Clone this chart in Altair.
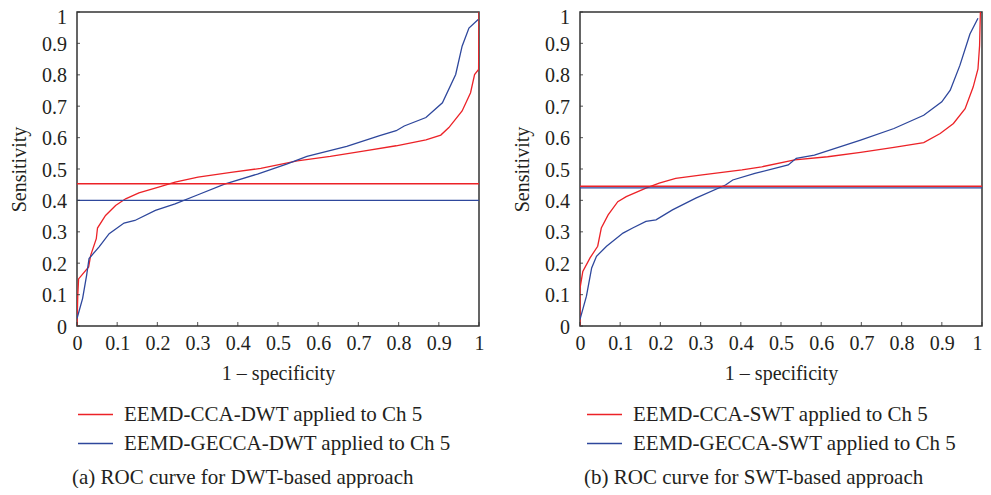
import altair as alt
import pandas as pd

# ---------------- data ----------------
ticks = [0, 0.1, 0.2, 0.3, 0.4, 0.5, 0.6, 0.7, 0.8, 0.9, 1]
tick_labels = ["0", "0.1", "0.2", "0.3", "0.4", "0.5", "0.6", "0.7", "0.8", "0.9", "1"]

# (a) DWT panel
dwt_cca_x = [0, 0.002, 0.004, 0.029, 0.034, 0.048, 0.051, 0.071, 0.096, 0.121, 0.154, 0.203,
             0.244, 0.301, 0.383, 0.457, 0.548, 0.63, 0.712, 0.794, 0.868, 0.905, 0.925,
             0.958, 0.979, 0.989, 0.999, 1.0]
dwt_cca_y = [0, 0.10, 0.15, 0.188, 0.225, 0.278, 0.312, 0.352, 0.384, 0.405, 0.424, 0.442,
             0.458, 0.474, 0.489, 0.502, 0.526, 0.540, 0.557, 0.574, 0.593, 0.608, 0.632,
             0.685, 0.743, 0.801, 0.817, 1.0]
dwt_gecca_x = [0, 0.014, 0.024, 0.030, 0.055, 0.080, 0.117, 0.144, 0.195, 0.244, 0.301, 0.367,
               0.449, 0.523, 0.572, 0.671, 0.753, 0.794, 0.814, 0.868, 0.909, 0.942, 0.958,
               0.975, 0.998]
dwt_gecca_y = [0.024, 0.088, 0.162, 0.215, 0.252, 0.294, 0.328, 0.336, 0.368, 0.389, 0.418, 0.452,
               0.484, 0.516, 0.540, 0.572, 0.606, 0.622, 0.637, 0.664, 0.711, 0.801, 0.891,
               0.949, 0.976]
dwt_thresholds = [0.453, 0.400]

# (b) SWT panel
swt_cca_x = [0, 0, 0.007, 0.025, 0.044, 0.053, 0.07, 0.094, 0.115, 0.164, 0.197, 0.238, 0.304,
             0.403, 0.452, 0.534, 0.616, 0.698, 0.781, 0.855, 0.896, 0.929, 0.958, 0.978,
             0.990, 0.994, 0.996]
swt_cca_y = [0, 0.12, 0.174, 0.217, 0.254, 0.312, 0.354, 0.396, 0.412, 0.439, 0.455, 0.470, 0.481,
             0.497, 0.507, 0.529, 0.539, 0.553, 0.569, 0.584, 0.613, 0.645, 0.692, 0.761,
             0.819, 0.893, 1.0]
swt_gecca_x = [0, 0.016, 0.029, 0.041, 0.066, 0.107, 0.131, 0.164, 0.189, 0.230, 0.288, 0.362,
               0.380, 0.435, 0.518, 0.538, 0.583, 0.698, 0.781, 0.855, 0.900, 0.921, 0.945,
               0.970, 0.990]
swt_gecca_y = [0.021, 0.095, 0.185, 0.222, 0.254, 0.296, 0.312, 0.333, 0.338, 0.370, 0.407, 0.449,
               0.465, 0.486, 0.513, 0.534, 0.544, 0.592, 0.629, 0.671, 0.714, 0.751, 0.830,
               0.930, 0.980]
swt_thresholds = [0.445, 0.440]

dwt_labels = ["EEMD-CCA-DWT applied to Ch 5", "EEMD-GECCA-DWT applied to Ch 5"]
swt_labels = ["EEMD-CCA-SWT applied to Ch 5", "EEMD-GECCA-SWT applied to Ch 5"]
captions = ["(a) ROC curve for DWT-based approach", "(b) ROC curve for SWT-based approach"]

# ---------------- style ----------------
FONT = "Liberation Serif"
TXT = "#231f20"
RED = "#ec2227"
BLUE = "#2e479c"
W, H = 402, 314


def curves_df(xs_list, ys_list, labels):
    rows = []
    for xs, ys, lab in zip(xs_list, ys_list, labels):
        for i, (x, y) in enumerate(zip(xs, ys)):
            rows.append({"x": x, "y": y, "series": lab, "i": i})
    return pd.DataFrame(rows)


def panel(cx, cy, gx, gy, thr, labels, caption, legend_x, cap_dx, last_align):
    color = alt.Color(
        "series:N",
        scale=alt.Scale(domain=labels, range=[RED, BLUE]),
        legend=alt.Legend(
            orient="none", legendX=legend_x, legendY=384, direction="vertical",
            title=None, symbolType="stroke", symbolSize=1225, symbolStrokeWidth=1.5,
            labelFont=FONT, labelFontSize=21, labelColor=TXT, labelOffset=10,
            padding=0, rowPadding=-7, labelLimit=400,
        ),
    )
    xs = alt.Scale(domain=[0, 1], nice=False)
    ys = alt.Scale(domain=[0, 1], nice=False)
    xaxis = alt.Axis(values=ticks, format="~g", title="1 – specificity", ticks=False, domain=False,
                     grid=False, labelPadding=7, titlePadding=10, labelFlush=False,
                     labelOverlap=False,
                     labelAlign={"condition": {"test": "datum.value == 1", "value": last_align},
                                 "value": "center"})
    yaxis = alt.Axis(values=ticks, title="Sensitivity", ticks=False, domain=False,
                     grid=False, labels=False, titlePadding=48)

    df = curves_df([cx, gx], [cy, gy], labels)
    lines = alt.Chart(df).mark_line(strokeWidth=1.3, clip=True).encode(
        x=alt.X("x:Q", scale=xs, axis=xaxis),
        y=alt.Y("y:Q", scale=ys, axis=yaxis),
        color=color,
        order=alt.Order("i:Q"),
    )
    thr_df = pd.DataFrame({"series": labels, "v": thr})
    rules = alt.Chart(thr_df).mark_rule(strokeWidth=1.4).encode(
        y=alt.Y("v:Q", scale=ys, axis=yaxis), color=color
    )
    tick_df = pd.DataFrame({"t": ticks, "lab": tick_labels})
    xt = alt.Chart(tick_df).mark_tick(orient="vertical", size=4, thickness=1.2,
                                      yOffset=-2, color="#333333").encode(
        x=alt.X("t:Q", scale=xs, axis=xaxis), y=alt.datum(0)
    )
    yt = alt.Chart(tick_df).mark_tick(orient="horizontal", size=3, thickness=1.2,
                                      xOffset=1.5, color="#333333").encode(
        y=alt.Y("t:Q", scale=ys, axis=yaxis), x=alt.datum(0)
    )
    ylab_base = alt.Chart(tick_df)
    ylab = ylab_base.transform_filter("datum.t < 1").mark_text(
        align="right", baseline="middle", dx=-10, dy=1.5,
        font=FONT, fontSize=20, color=TXT,
    ).encode(y=alt.Y("t:Q", scale=ys, axis=yaxis), x=alt.datum(0), text="lab:N")
    ylab_top = ylab_base.transform_filter("datum.t == 1").mark_text(
        align="right", baseline="middle", dx=-10, dy=5.5,
        font=FONT, fontSize=20, color=TXT,
    ).encode(y=alt.Y("t:Q", scale=ys, axis=yaxis), x=alt.datum(0), text="lab:N")
    return alt.layer(lines, rules, xt, yt, ylab, ylab_top).properties(
        width=W, height=H,
        title=alt.TitleParams(caption, orient="bottom", anchor="start", frame="group",
                              font=FONT, fontSize=21, fontWeight="normal", color=TXT,
                              offset=13, dx=cap_dx),
    )


left = panel(dwt_cca_x, dwt_cca_y, dwt_gecca_x, dwt_gecca_y, dwt_thresholds, dwt_labels,
             captions[0], 0, -5, "center")
right = panel(swt_cca_x, swt_cca_y, swt_gecca_x, swt_gecca_y, swt_thresholds, swt_labels,
              captions[1], 6, 4, "right")

chart = alt.hconcat(left, right, spacing=26).resolve_scale(color="independent").properties(
    padding={"left": 0, "top": -2, "right": -1, "bottom": -1}
).configure_view(
    stroke="#333333", strokeWidth=1.5
).configure_axis(
    labelFont=FONT, labelFontSize=20, labelColor=TXT,
    titleFont=FONT, titleFontSize=20, titleColor=TXT, titleFontWeight="normal",
)

chart.save("out.html", embed_options={"renderer": "svg", "actions": False})
